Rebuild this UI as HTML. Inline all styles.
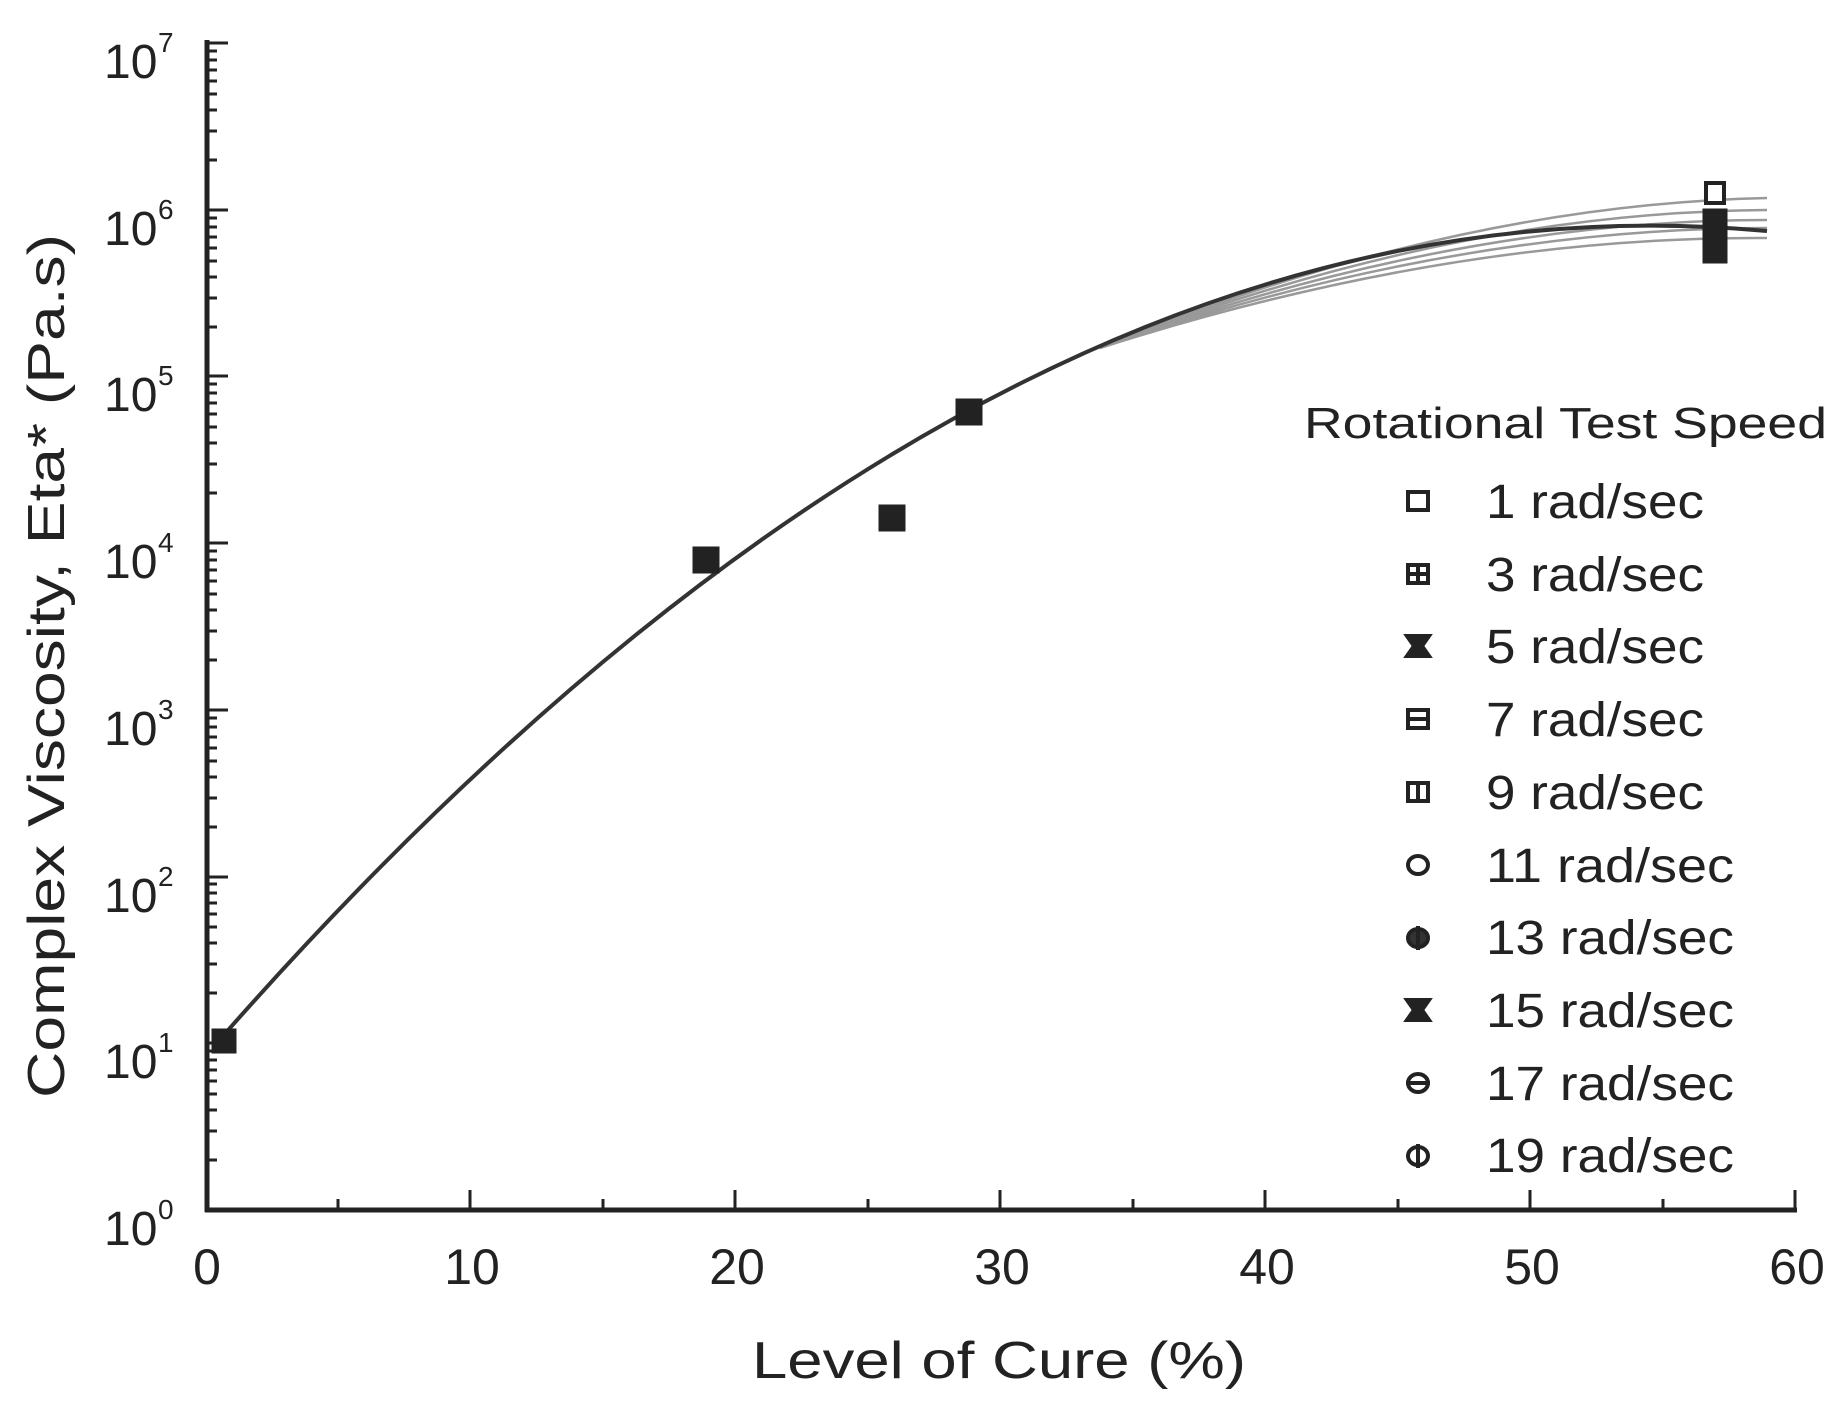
<!DOCTYPE html>
<html><head><meta charset="utf-8"><style>
html,body{margin:0;padding:0;background:#fff;}
svg{display:block;}
text{font-family:"Liberation Sans",sans-serif;fill:#222;}
</style></head><body>
<svg width="1842" height="1402" viewBox="0 0 1842 1402" xmlns="http://www.w3.org/2000/svg">
<g stroke="#222" stroke-width="5" fill="none">
<line x1="207" y1="40" x2="207" y2="1212"/>
<line x1="205" y1="1210" x2="1797" y2="1210"/>
</g>
<g stroke="#222" stroke-width="3">
<line x1="207" y1="43" x2="228" y2="43"/><line x1="207" y1="210" x2="228" y2="210"/>
<line x1="207" y1="376" x2="228" y2="376"/><line x1="207" y1="543" x2="228" y2="543"/>
<line x1="207" y1="710" x2="228" y2="710"/><line x1="207" y1="877" x2="228" y2="877"/>
<line x1="207" y1="1043" x2="228" y2="1043"/>
<path d="M207 160h10M207 131h10M207 110h10M207 94h10M207 81h10M207 70h10M207 60h10M207 51h10
M207 327h10M207 298h10M207 277h10M207 261h10M207 248h10M207 237h10M207 227h10M207 218h10
M207 493h10M207 464h10M207 443h10M207 427h10M207 414h10M207 403h10M207 393h10M207 384h10
M207 660h10M207 631h10M207 610h10M207 594h10M207 581h10M207 570h10M207 560h10M207 551h10
M207 827h10M207 798h10M207 777h10M207 761h10M207 748h10M207 737h10M207 727h10M207 718h10
M207 993h10M207 964h10M207 943h10M207 927h10M207 914h10M207 903h10M207 893h10M207 884h10
M207 1160h10M207 1131h10M207 1110h10M207 1094h10M207 1081h10M207 1070h10M207 1060h10M207 1051h10"/>
<path d="M470 1210v-20M735 1210v-20M1000 1210v-20M1265 1210v-20M1530 1210v-20M1795 1210v-20
M338 1210v-11M603 1210v-11M868 1210v-11M1133 1210v-11M1398 1210v-11M1663 1210v-11"/>
</g>
<g font-size="48">
<text x="104" y="78">10</text><text x="158" y="52" font-size="28">7</text>
<text x="104" y="245">10</text><text x="158" y="219" font-size="28">6</text>
<text x="104" y="411">10</text><text x="158" y="385" font-size="28">5</text>
<text x="104" y="578">10</text><text x="158" y="552" font-size="28">4</text>
<text x="104" y="745">10</text><text x="158" y="719" font-size="28">3</text>
<text x="104" y="912">10</text><text x="158" y="886" font-size="28">2</text>
<text x="104" y="1078">10</text><text x="158" y="1052" font-size="28">1</text>
<text x="104" y="1245">10</text><text x="158" y="1219" font-size="28">0</text>
</g>
<g font-size="50" text-anchor="middle">
<text x="207" y="1284">0</text><text x="472" y="1284">10</text><text x="737" y="1284">20</text>
<text x="1002" y="1284">30</text><text x="1267" y="1284">40</text><text x="1532" y="1284">50</text>
<text x="1797" y="1284">60</text>
</g>
<text x="752" y="1378" font-size="52" textLength="494" lengthAdjust="spacingAndGlyphs">Level of Cure (%)</text>
<text transform="translate(64,1098) rotate(-90)" font-size="52" textLength="864" lengthAdjust="spacingAndGlyphs">Complex Viscosity, Eta* (Pa.s)</text>
<g fill="none" stroke-width="2.5" stroke="#999">
<path d="M1100 348 Q1450 205 1767 198"/>
<path d="M1100 348 Q1450 212 1767 210"/>
<path d="M1100 348 Q1450 220 1767 220"/>
<path d="M1100 348 Q1450 228 1767 228"/>
<path d="M1100 348 Q1450 236 1767 238"/>
</g>
<path d="M215 1045 Q991 159 1767 231" fill="none" stroke="#333" stroke-width="4"/>
<g fill="#222" stroke="#222" stroke-width="3">
<rect x="213" y="1030" width="22" height="22"/>
<rect x="694" y="548" width="24" height="24"/>
<rect x="880" y="506" width="24" height="24"/>
<rect x="957" y="400" width="24" height="24"/>
<rect x="1704" y="210" width="22" height="52"/>
</g>
<rect x="1706" y="183" width="18" height="20" fill="#fff" stroke="#222" stroke-width="4"/>
<text x="1304" y="438" font-size="44" textLength="523" lengthAdjust="spacingAndGlyphs">Rotational Test Speed</text>
<g font-size="48">
<text x="1486" y="518" textLength="218" lengthAdjust="spacingAndGlyphs">1 rad/sec</text>
<text x="1486" y="591" textLength="218" lengthAdjust="spacingAndGlyphs">3 rad/sec</text>
<text x="1486" y="663" textLength="218" lengthAdjust="spacingAndGlyphs">5 rad/sec</text>
<text x="1486" y="736" textLength="218" lengthAdjust="spacingAndGlyphs">7 rad/sec</text>
<text x="1486" y="809" textLength="218" lengthAdjust="spacingAndGlyphs">9 rad/sec</text>
<text x="1486" y="882" textLength="248" lengthAdjust="spacingAndGlyphs">11 rad/sec</text>
<text x="1486" y="954" textLength="248" lengthAdjust="spacingAndGlyphs">13 rad/sec</text>
<text x="1486" y="1027" textLength="248" lengthAdjust="spacingAndGlyphs">15 rad/sec</text>
<text x="1486" y="1100" textLength="248" lengthAdjust="spacingAndGlyphs">17 rad/sec</text>
<text x="1486" y="1172" textLength="248" lengthAdjust="spacingAndGlyphs">19 rad/sec</text>
</g>
<g fill="none" stroke="#222" stroke-width="4">
<rect x="1408" y="492" width="20" height="18"/>
<rect x="1408" y="565" width="20" height="18"/><path d="M1418 565v18M1408 574h20"/>
<path d="M1407 636h22l-7 10 7 10h-22l7-10z" fill="#222"/>
<rect x="1408" y="710" width="20" height="18"/><path d="M1408 719h20"/>
<rect x="1408" y="783" width="20" height="18"/><path d="M1418 783v18"/>
<ellipse cx="1418" cy="865" rx="10" ry="9"/>
<ellipse cx="1418" cy="938" rx="10" ry="9" fill="#333"/><path d="M1418 926v24"/>
<path d="M1407 1000h22l-7 10 7 10h-22l7-10z" fill="#222"/>
<ellipse cx="1418" cy="1083" rx="10" ry="9"/><path d="M1406 1083h24"/>
<ellipse cx="1418" cy="1156" rx="10" ry="9"/><path d="M1418 1144v24"/>
</g>
</svg>
</body></html>
